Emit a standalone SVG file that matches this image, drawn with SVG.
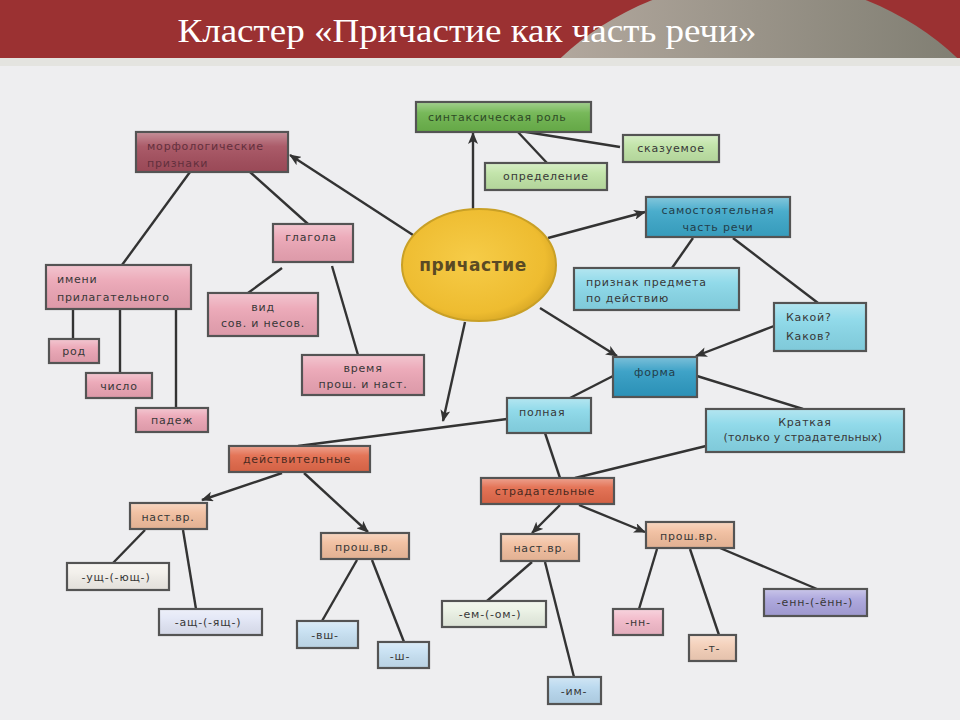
<svg xmlns="http://www.w3.org/2000/svg" width="960" height="720" viewBox="0 0 960 720">
<defs>
<linearGradient id="dome" x1="0" y1="0" x2="1" y2="0">
<stop offset="0" stop-color="#bcb0a6"/>
<stop offset="1" stop-color="#76766a"/>
</linearGradient>
<linearGradient id="gloss" x1="0" y1="0" x2="0" y2="1">
<stop offset="0" stop-color="#ffffff" stop-opacity="0.35"/>
<stop offset="0.35" stop-color="#ffffff" stop-opacity="0.08"/>
<stop offset="1" stop-color="#000000" stop-opacity="0.06"/>
</linearGradient>
<radialGradient id="yel" cx="0.45" cy="0.45" r="0.6">
<stop offset="0" stop-color="#f6cc48"/>
<stop offset="0.8" stop-color="#eebc30"/>
<stop offset="1" stop-color="#d4a424"/>
</radialGradient>
<clipPath id="hdr"><rect x="0" y="0" width="960" height="58"/></clipPath>
<marker id="ar" viewBox="0 0 12 10" refX="11" refY="5" markerWidth="12" markerHeight="10" markerUnits="userSpaceOnUse" orient="auto">
<path d="M0,0 L12,5 L0,10 L3,5 z" fill="#333"/>
</marker>
</defs>
<style>
.bx{stroke:#545454;stroke-width:2.2}
.gl{fill:url(#gloss);stroke:none}
.t{font-family:"DejaVu Sans",sans-serif;font-size:11px;fill:#383838;letter-spacing:0.8px}
.c{text-anchor:middle}
.ln{stroke:#333;stroke-width:2.4;fill:none}
.mor{fill:#a44e5d}
.pk{fill:#eba4b4}
.gr{fill:#6cb34c}
.lg{fill:#bfe3a5}
.bl{fill:#3ba6c8}
.cy{fill:#88d7e8}
.fo{fill:#2f9bc3}
.rd{fill:#e2694a}
.pe{fill:#f1bd9d}
</style>

<rect x="0" y="0" width="960" height="720" fill="#eeeef0"/>
<rect x="0" y="58" width="960" height="8" fill="#e4e4e0"/>
<g id="header">
<rect x="0" y="0" width="960" height="58" fill="#9b3132"/>
<ellipse cx="759" cy="250" rx="282" ry="270" fill="url(#dome)" clip-path="url(#hdr)"/>
<text x="467" y="42" text-anchor="middle" font-family="Liberation Serif, serif" font-size="33" fill="#ffffff" textLength="579" lengthAdjust="spacingAndGlyphs">Кластер «Причастие как часть речи»</text>
</g>

<g id="connectors">
<line class="ln" x1="413" y1="235" x2="290" y2="155" marker-end="url(#ar)"/>
<line class="ln" x1="190" y1="172" x2="122" y2="265"/>
<line class="ln" x1="250" y1="172" x2="308" y2="224"/>
<line class="ln" x1="282" y1="268" x2="248" y2="293"/>
<line class="ln" x1="332" y1="266" x2="358" y2="355"/>
<line class="ln" x1="73" y1="309" x2="73" y2="339"/>
<line class="ln" x1="120" y1="309" x2="120" y2="373"/>
<line class="ln" x1="176" y1="309" x2="176" y2="408"/>
<line class="ln" x1="473" y1="209" x2="473" y2="133" marker-end="url(#ar)"/>
<line class="ln" x1="520" y1="131" x2="620" y2="147"/>
<line class="ln" x1="517" y1="131" x2="547" y2="163"/>
<line class="ln" x1="548" y1="238" x2="645" y2="212" marker-end="url(#ar)"/>
<line class="ln" x1="693" y1="238" x2="672" y2="268"/>
<line class="ln" x1="733" y1="238" x2="818" y2="303"/>
<line class="ln" x1="540" y1="308" x2="617" y2="356" marker-end="url(#ar)"/>
<line class="ln" x1="774" y1="326" x2="696" y2="356" marker-end="url(#ar)"/>
<line class="ln" x1="613" y1="376" x2="570" y2="398"/>
<line class="ln" x1="697" y1="376" x2="803" y2="409"/>
<line class="ln" x1="706" y1="446" x2="575" y2="478"/>
<line class="ln" x1="507" y1="419" x2="298" y2="446"/>
<line class="ln" x1="465" y1="322" x2="443" y2="421" marker-end="url(#ar)"/>
<line class="ln" x1="545" y1="433" x2="560" y2="478"/>
<line class="ln" x1="282" y1="473" x2="202" y2="500" marker-end="url(#ar)"/>
<line class="ln" x1="304" y1="473" x2="368" y2="532" marker-end="url(#ar)"/>
<line class="ln" x1="145" y1="530" x2="113" y2="563"/>
<line class="ln" x1="183" y1="530" x2="196" y2="609"/>
<line class="ln" x1="357" y1="560" x2="322" y2="621"/>
<line class="ln" x1="372" y1="560" x2="404" y2="642"/>
<line class="ln" x1="560" y1="505" x2="532" y2="533" marker-end="url(#ar)"/>
<line class="ln" x1="579" y1="505" x2="645" y2="532" marker-end="url(#ar)"/>
<line class="ln" x1="532" y1="562" x2="487" y2="601"/>
<line class="ln" x1="545" y1="562" x2="574" y2="677"/>
<line class="ln" x1="657" y1="549" x2="639" y2="609"/>
<line class="ln" x1="690" y1="549" x2="719" y2="635"/>
<line class="ln" x1="720" y1="548" x2="817" y2="589"/>
</g>

<g id="n-prich">
<ellipse cx="479" cy="265" rx="77" ry="56" fill="url(#yel)" stroke="#c9a026" stroke-width="2"/>
<text x="473" y="271" class="c" font-family="DejaVu Sans, sans-serif" font-size="17" font-weight="bold" fill="#5a4a24" letter-spacing="0.6">причастие</text>
</g>

<g id="n-morf">
<rect class="bx mor" x="136" y="132" width="152" height="40"/>
<rect class="gl" x="137" y="133" width="150" height="38"/>
<text class="t" x="147" y="150" style="fill:#62303d">морфологические</text>
<text class="t" x="147" y="167" style="fill:#62303d">признаки</text>
</g>
<g id="n-glagola">
<rect class="bx pk" x="273" y="224" width="80" height="38"/>
<rect class="gl" x="274" y="225" width="78" height="36"/>
<text class="t c" x="311" y="241">глагола</text>
</g>
<g id="n-imeni">
<rect class="bx pk" x="46" y="265" width="145" height="44"/>
<rect class="gl" x="47" y="266" width="143" height="42"/>
<text class="t" x="57" y="283">имени</text>
<text class="t" x="57" y="301">прилагательного</text>
</g>
<g id="n-rod">
<rect class="bx pk" x="49" y="339" width="50" height="24"/>
<rect class="gl" x="50" y="340" width="48" height="22"/>
<text class="t c" x="74" y="355">род</text>
</g>
<g id="n-chislo">
<rect class="bx pk" x="86" y="373" width="66" height="25"/>
<rect class="gl" x="87" y="374" width="64" height="23"/>
<text class="t c" x="119" y="390">число</text>
</g>
<g id="n-padezh">
<rect class="bx pk" x="136" y="408" width="72" height="24"/>
<rect class="gl" x="137" y="409" width="70" height="22"/>
<text class="t c" x="172" y="424">падеж</text>
</g>
<g id="n-vid">
<rect class="bx pk" x="208" y="293" width="110" height="43"/>
<rect class="gl" x="209" y="294" width="108" height="41"/>
<text class="t c" x="263" y="311">вид</text>
<text class="t c" x="263" y="327">сов. и несов.</text>
</g>
<g id="n-vremya">
<rect class="bx pk" x="302" y="355" width="122" height="40"/>
<rect class="gl" x="303" y="356" width="120" height="38"/>
<text class="t c" x="363" y="372">время</text>
<text class="t c" x="363" y="388">прош. и наст.</text>
</g>

<g id="n-sint">
<rect class="bx gr" x="416" y="102" width="175" height="30"/>
<rect class="gl" x="417" y="103" width="173" height="28"/>
<text class="t" x="428" y="121" style="fill:#2e4a26">синтаксическая роль</text>
</g>
<g id="n-skaz">
<rect class="bx lg" x="623" y="135" width="96" height="27"/>
<rect class="gl" x="624" y="136" width="94" height="25"/>
<text class="t c" x="671" y="152">сказуемое</text>
</g>
<g id="n-opred">
<rect class="bx lg" x="485" y="163" width="122" height="27"/>
<rect class="gl" x="486" y="164" width="120" height="25"/>
<text class="t c" x="546" y="180">определение</text>
</g>

<g id="n-samost">
<rect class="bx bl" x="646" y="197" width="144" height="40"/>
<rect class="gl" x="647" y="198" width="142" height="38"/>
<text class="t c" x="718" y="214" style="fill:#233e4a">самостоятельная</text>
<text class="t c" x="718" y="231" style="fill:#233e4a">часть речи</text>
</g>
<g id="n-priznak">
<rect class="bx cy" x="574" y="268" width="165" height="42"/>
<rect class="gl" x="575" y="269" width="163" height="40"/>
<text class="t" x="586" y="286">признак предмета</text>
<text class="t" x="586" y="302">по действию</text>
</g>
<g id="n-kakoy">
<rect class="bx cy" x="774" y="303" width="92" height="48"/>
<rect class="gl" x="775" y="304" width="90" height="46"/>
<text class="t" x="786" y="321">Какой?</text>
<text class="t" x="786" y="340">Каков?</text>
</g>
<g id="n-forma">
<rect class="bx fo" x="613" y="357" width="84" height="40"/>
<rect class="gl" x="614" y="358" width="82" height="38"/>
<text class="t c" x="655" y="376" style="fill:#233e4a">форма</text>
</g>
<g id="n-polnaya">
<rect class="bx cy" x="507" y="398" width="84" height="35"/>
<rect class="gl" x="508" y="399" width="82" height="33"/>
<text class="t" x="519" y="416">полная</text>
</g>
<g id="n-kratkaya">
<rect class="bx cy" x="706" y="409" width="198" height="43"/>
<rect class="gl" x="707" y="410" width="196" height="41"/>
<text class="t c" x="805" y="426">Краткая</text>
<text class="t c" x="803" y="441" style="letter-spacing:0.3px">(только у страдательных)</text>
</g>

<g id="n-deystv">
<rect class="bx rd" x="229" y="446" width="141" height="26"/>
<rect class="gl" x="230" y="447" width="139" height="24"/>
<text class="t c" x="297" y="463" style="fill:#4a2a20">действительные</text>
</g>
<g id="n-strad">
<rect class="bx rd" x="481" y="478" width="133" height="26"/>
<rect class="gl" x="482" y="479" width="131" height="24"/>
<text class="t c" x="545" y="495" style="fill:#4a2a20">страдательные</text>
</g>

<g id="n-nast-l">
<rect class="bx pe" x="130" y="503" width="77" height="26"/>
<rect class="gl" x="131" y="504" width="75" height="24"/>
<text class="t c" x="168" y="521">наст.вр.</text>
</g>
<g id="n-ushch">
<rect class="bx" x="67" y="563" width="102" height="27" fill="#f2efea"/>
<rect class="gl" x="68" y="564" width="100" height="25"/>
<text class="t c" x="116" y="581">-ущ-(-ющ-)</text>
</g>
<g id="n-ashch">
<rect class="bx" x="159" y="609" width="103" height="26" fill="#e2e6f6"/>
<rect class="gl" x="160" y="610" width="101" height="24"/>
<text class="t c" x="208" y="626">-ащ-(-ящ-)</text>
</g>
<g id="n-prosh-l">
<rect class="bx pe" x="321" y="533" width="88" height="26"/>
<rect class="gl" x="322" y="534" width="86" height="24"/>
<text class="t c" x="364" y="551">прош.вр.</text>
</g>
<g id="n-vsh">
<rect class="bx" x="297" y="621" width="61" height="27" fill="#c6e0f2"/>
<rect class="gl" x="298" y="622" width="59" height="25"/>
<text class="t c" x="325" y="639">-вш-</text>
</g>
<g id="n-sh">
<rect class="bx" x="378" y="642" width="51" height="26" fill="#c6e0f2"/>
<rect class="gl" x="379" y="643" width="49" height="24"/>
<text class="t c" x="400" y="660">-ш-</text>
</g>

<g id="n-nast-r">
<rect class="bx pe" x="501" y="534" width="78" height="27"/>
<rect class="gl" x="502" y="535" width="76" height="25"/>
<text class="t c" x="540" y="552">наст.вр.</text>
</g>
<g id="n-prosh-r">
<rect class="bx pe" x="646" y="522" width="88" height="26"/>
<rect class="gl" x="647" y="523" width="86" height="24"/>
<text class="t c" x="689" y="540">прош.вр.</text>
</g>
<g id="n-em">
<rect class="bx" x="442" y="601" width="104" height="26" fill="#eaf1e4"/>
<rect class="gl" x="443" y="602" width="102" height="24"/>
<text class="t c" x="490" y="618">-ем-(-ом-)</text>
</g>
<g id="n-im">
<rect class="bx" x="548" y="677" width="53" height="27" fill="#b7d7ee"/>
<rect class="gl" x="549" y="678" width="51" height="25"/>
<text class="t c" x="574" y="695">-им-</text>
</g>
<g id="n-nn">
<rect class="bx" x="613" y="609" width="50" height="26" fill="#f2b9c9"/>
<rect class="gl" x="614" y="610" width="48" height="24"/>
<text class="t c" x="638" y="626">-нн-</text>
</g>
<g id="n-t">
<rect class="bx" x="689" y="635" width="47" height="26" fill="#f4cfb8"/>
<rect class="gl" x="690" y="636" width="45" height="24"/>
<text class="t c" x="712" y="652">-т-</text>
</g>
<g id="n-enn">
<rect class="bx" x="764" y="589" width="103" height="27" fill="#a9a3dc"/>
<rect class="gl" x="765" y="590" width="101" height="25"/>
<text class="t c" x="815" y="606">-енн-(-ённ-)</text>
</g>
</svg>
